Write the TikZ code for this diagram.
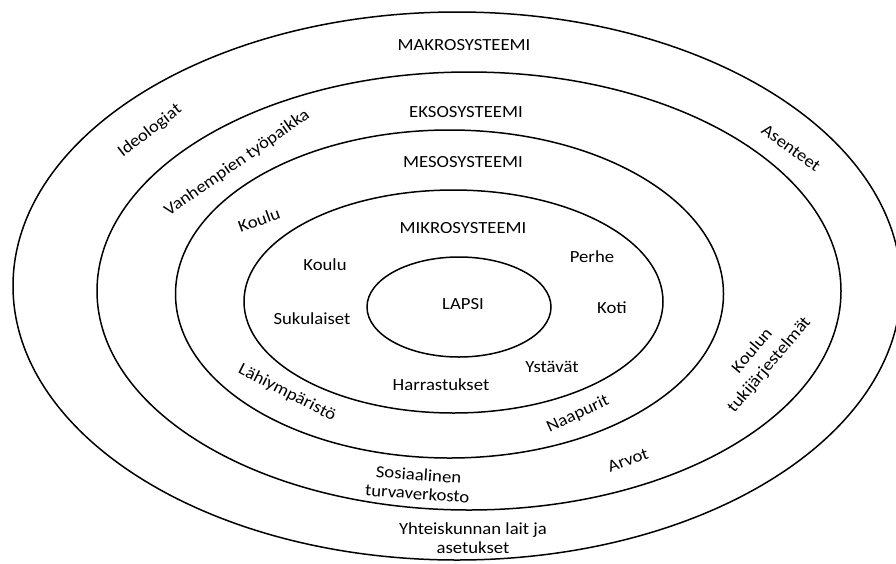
\documentclass[tikz,border=0pt]{standalone}
\usepackage{fontspec}
\setmainfont[FakeStretch=1.1]{Carlito}
\begin{document}
\begin{tikzpicture}[x=1pt,y=-1pt,
  ring/.style={line width=1.5pt},
  lbl/.style={font=\fontsize{17}{19}\selectfont, inner sep=1pt, align=center}]
\useasboundingbox (0,0) rectangle (896,563);
\fill[white] (0,0) rectangle (896,563);
% rings
\draw[ring] (457,286) ellipse [x radius=444pt, y radius=274pt];
\draw[ring] (469,291) ellipse [x radius=372pt, y radius=219pt];
\draw[ring] (449.5,294) ellipse [x radius=274pt, y radius=164pt];
\draw[ring] (453.5,301.5) ellipse [x radius=209.5pt, y radius=111.5pt];
\draw[ring] (459,307) ellipse [x radius=92pt, y radius=50pt];
% level titles
\node[lbl] (makro) at (464,45) {MAKROSYSTEEMI};
\node[lbl] (ekso) at (466,112) {EKSOSYSTEEMI};
\node[lbl] (meso) at (463,162) {MESOSYSTEEMI};
\node[lbl] (mikro) at (463,228) {MIKROSYSTEEMI};
\node[lbl] (lapsi) at (463,304) {LAPSI};
% mikro
\node[lbl] (perhe) at (592,257) {Perhe};
\node[lbl] (koti) at (612,308) {Koti};
\node[lbl] (ystavat) at (552,367) {Ystävät};
\node[lbl] (harrastukset) at (441,385) {Harrastukset};
\node[lbl] (sukulaiset) at (312,319) {Sukulaiset};
\node[lbl] (koulu1) at (325,265) {Koulu};
% meso
\node[lbl, rotate=20] (koulu2) at (259,220) {Koulu};
\node[lbl, rotate=-27] (lahi) at (287,393) {Lähiympäristö};
\node[lbl, rotate=25] (naapurit) at (578,414) {Naapurit};
% ekso
\node[lbl, rotate=35] (vanhempien) at (237,163) {Vanhempien työpaikka};
\node[lbl, rotate=50, font=\fontsize{17}{22}\selectfont] (koulun) at (761,358) {Koulun\\tukijärjestelmät};
\node[lbl, rotate=-4] (sosiaalinen) at (418,484) {Sosiaalinen\\turvaverkosto};
% makro
\node[lbl, rotate=38] (ideologiat) at (150,131) {Ideologiat};
\node[lbl, rotate=-36] (asenteet) at (791,148) {Asenteet};
\node[lbl, rotate=20] (arvot) at (628,460) {Arvot};
\node[lbl] (yhteiskunta) at (473,538) {Yhteiskunnan lait ja\\asetukset};
\end{tikzpicture}
\end{document}
